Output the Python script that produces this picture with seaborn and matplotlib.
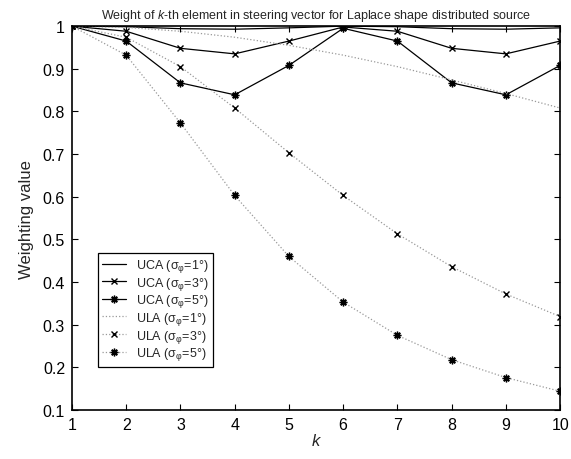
import numpy as np
import pandas as pd
import matplotlib
matplotlib.use("Agg")
import matplotlib.pyplot as plt
import seaborn as sns

k = [1, 2, 3, 4, 5, 6, 7, 8, 9, 10]
uca1 = [1.0, 0.9987, 0.994, 0.9928, 0.996, 1.0, 0.9987, 0.994, 0.9928, 0.996]
uca3 = [1.0, 0.988, 0.948, 0.935, 0.965, 0.998, 0.988, 0.948, 0.935, 0.965]
uca5 = [1.0, 0.965, 0.867, 0.839, 0.908, 0.995, 0.965, 0.867, 0.839, 0.908]
ula1 = [1.0, 0.997, 0.988, 0.974, 0.955, 0.932, 0.905, 0.874, 0.842, 0.808]
ula3 = [1.0, 0.974, 0.905, 0.808, 0.703, 0.603, 0.513, 0.436, 0.372, 0.319]
ula5 = [1.0, 0.932, 0.773, 0.603, 0.46, 0.353, 0.275, 0.218, 0.176, 0.144]
labels = ["UCA (σ$_{\\mathregular{φ}}$=1°)", "UCA (σ$_{\\mathregular{φ}}$=3°)",
          "UCA (σ$_{\\mathregular{φ}}$=5°)", "ULA (σ$_{\\mathregular{φ}}$=1°)",
          "ULA (σ$_{\\mathregular{φ}}$=3°)", "ULA (σ$_{\\mathregular{φ}}$=5°)"]
xticks = [1, 2, 3, 4, 5, 6, 7, 8, 9, 10]
yticks = [0.1, 0.2, 0.3, 0.4, 0.5, 0.6, 0.7, 0.8, 0.9, 1.0]
yticklabels = ["0.1", "0.2", "0.3", "0.4", "0.5", "0.6", "0.7", "0.8", "0.9", "1"]

sns.set_theme(style="ticks")
plt.rcParams['font.family'] = ['Liberation Sans', 'DejaVu Sans']
plt.rcParams['mathtext.fontset'] = 'custom'
plt.rcParams['mathtext.rm'] = 'Liberation Sans'
plt.rcParams['mathtext.it'] = 'Liberation Sans:italic'
plt.rcParams['mathtext.bf'] = 'Liberation Sans:bold'

fig = plt.figure(figsize=(5.71, 4.60), dpi=100)
ax = fig.add_axes([0.126, 0.1065, 0.855, 0.8345])

star = (8, 2, 0)
mk = dict(markeredgecolor='black', markerfacecolor='black', markeredgewidth=1.0)
series = [
    (uca1, dict(color='black', linestyle='-', linewidth=0.9, marker=None)),
    (uca3, dict(color='black', linestyle='-', linewidth=0.9, marker='x', markersize=4, **mk)),
    (uca5, dict(color='black', linestyle='-', linewidth=0.9, marker=star, markersize=5.5, **mk)),
    (ula1, dict(color='#999999', linestyle=':', linewidth=0.9, marker=None)),
    (ula3, dict(color='#999999', linestyle=':', linewidth=0.9, marker='x', markersize=4, **mk)),
    (ula5, dict(color='#999999', linestyle=':', linewidth=0.9, marker=star, markersize=5.5, **mk)),
]
for (vals, kw), lab in zip(series, labels):
    df = pd.DataFrame({"k": k, "w": vals})
    sns.lineplot(data=df, x="k", y="w", ax=ax, label=lab, **kw)

ax.set_xlim(1, 10)
ax.set_ylim(0.1, 1.0)
ax.set_xticks(xticks)
ax.set_xticklabels([str(t) for t in xticks], fontsize=11.5)
ax.set_yticks(yticks)
ax.set_yticklabels(yticklabels, fontsize=11.5)
ax.tick_params(direction='in', top=True, right=True, length=4, width=0.8, colors='black', pad=5)
for s in ax.spines.values():
    s.set_visible(True)
    s.set_color('black')
    s.set_linewidth(1.2)
ax.set_xlabel("$\\mathit{k}$", fontsize=12, labelpad=0)
ax.set_ylabel("Weighting value", fontsize=12, labelpad=6)
ax.set_title("Weight of $\\mathit{k}$-th element in steering vector for Laplace shape distributed source",
             fontsize=9, pad=6)

leg = ax.legend(loc='lower left', bbox_to_anchor=(0.04, 0.097), fontsize=9,
                frameon=True, fancybox=False, edgecolor='black', framealpha=1,
                handlelength=1.9, borderpad=0.35, labelspacing=0.05, handletextpad=0.8)
leg.get_frame().set_linewidth(0.9)

fig.savefig("out.png", dpi=100)
